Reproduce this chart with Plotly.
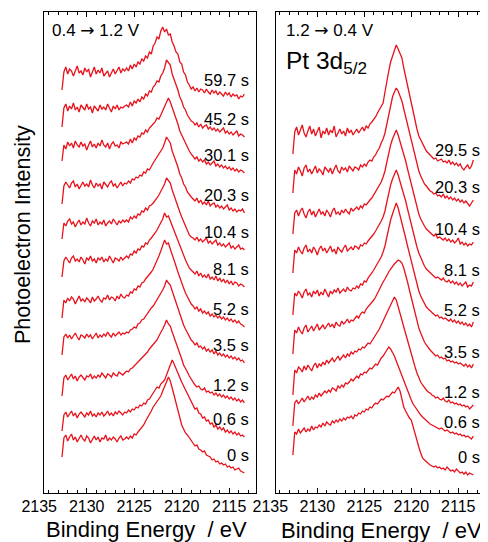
import numpy as np
import plotly.graph_objects as go

# ---------------- data ----------------
# binding-energy grid of the recorded spectra (eV), 2132.6 -> 2113.4
energy = np.round(2132.6 - 0.2 * np.arange(97), 2)

# Each spectrum: intensity (a.u.) relative to its own low-BE end, listed as
# [first point] + background 2132.4-2126.0 + rise 2125.8-2123.0 + peak 2122.8-2121.0
# + fall 2120.8-2119.0 + tail 2118.8-2113.4
left_times = ["59.7 s", "45.2 s", "30.1 s", "20.3 s", "10.4 s", "8.1 s",
              "5.2 s", "3.5 s", "1.2 s", "0.6 s", "0 s"]
left_offsets = [395, 356, 320, 280, 243, 206, 166, 130, 90, 56, 20]

L_59_7 = ([8] + [26,31,24,29,27,22,28,32,25,27,23,30,26,29,21,27,31,24,28,25,30,22,24,27,21,26,29,24,28,31,25,29,27]
          + [30,27,33,29,34,31,36,34,39,37,42,40,46,44,52] + [55,61,59,67,71,66,69,63,64,56]
          + [52,46,44,36,34,26,23,16,13,9] + [11,7,10,6,9,8,5,9,6,4,8,5,7,3,6,4,2,6,3,5,1,4,2,3,-1,2,1,4])
L_45_2 = ([10] + [29,33,26,31,28,34,27,30,25,32,29,27,33,28,30,24,31,29,26,32,28,30,27,33,29,25,31,28,32,27,30,29,31]
          + [32,30,35,31,36,34,38,35,40,38,43,41,46,45,50] + [52,56,55,61,64,69,77,74,72,63]
          + [58,52,47,40,36,30,27,22,19,16] + [15,12,14,10,13,9,11,12,8,10,7,9,6,8,5,7,9,4,6,3,5,2,4,6,1,3,2,0])
L_30_1 = ([12] + [28,24,31,27,30,25,32,28,26,31,27,29,23,28,32,26,29,25,30,27,33,28,26,30,24,29,31,27,28,25,31,29,30]
          + [31,29,34,30,35,33,37,36,40,39,43,41,45,47,49] + [51,55,54,58,62,66,70,75,71,66]
          + [60,54,49,42,38,33,29,25,22,19] + [17,14,16,12,14,11,13,9,11,8,10,12,7,9,6,8,5,7,4,6,3,5,2,4,1,3,2,0])
L_20_3 = ([9] + [27,31,28,25,30,32,26,29,24,28,31,27,29,26,33,28,25,30,27,29,24,31,28,26,30,32,27,29,25,28,31,27,30]
          + [29,32,30,34,33,36,35,38,37,41,40,44,43,47,50] + [53,56,58,62,65,70,76,73,70,62]
          + [57,50,46,39,35,29,26,21,18,16] + [14,12,15,10,13,9,11,8,12,7,9,10,6,8,5,7,4,6,8,3,5,2,4,1,3,2,4,0])
L_10_4 = ([11] + [27,24,29,31,26,28,23,27,30,25,28,26,32,27,24,29,27,31,25,28,26,30,24,27,29,26,31,28,25,29,27,30,28]
          + [30,28,33,31,34,32,36,35,39,38,42,40,44,45,47] + [49,52,55,59,62,66,72,69,67,60]
          + [54,49,44,38,33,28,24,19,15,13] + [12,10,13,9,11,8,10,12,7,9,6,8,10,5,7,4,6,3,5,7,2,4,1,3,5,1,2,0])
L_8_1 = ([10] + [26,30,27,24,29,31,26,28,25,30,27,23,29,27,31,26,28,24,29,27,30,25,28,26,31,27,24,29,28,26,30,27,29]
         + [31,29,33,32,36,34,38,37,41,40,44,43,47,49,51] + [54,57,61,64,68,74,70,71,66,62]
         + [57,50,46,40,35,30,27,23,19,17] + [15,13,16,11,14,10,12,9,13,8,10,7,11,6,9,5,8,4,7,3,6,2,5,4,1,3,2,0])
L_5_2 = ([9] + [27,24,29,26,30,28,23,27,31,26,28,25,29,27,24,30,26,28,31,27,25,29,28,32,27,30,29,26,31,28,33,30,29]
         + [32,31,35,34,38,37,41,40,44,45,48,50,53,55,58] + [62,66,71,76,81,87,83,84,78,73]
         + [67,61,55,49,44,39,34,30,26,23] + [21,18,20,16,18,14,16,13,15,11,13,10,12,9,11,8,10,7,9,6,8,5,7,4,6,3,2,0])
L_3_5 = ([8] + [26,29,25,28,24,27,30,26,23,28,27,25,29,26,28,24,27,30,25,28,26,29,27,31,28,26,30,27,29,31,28,30,29]
         + [31,30,33,34,36,35,39,40,43,44,47,49,52,55,57] + [60,63,66,70,73,77,83,80,78,72]
         + [66,60,54,48,43,38,34,30,26,23] + [21,18,20,16,17,14,16,12,14,11,13,9,12,8,10,7,9,6,8,5,7,4,6,3,5,2,3,0])
L_1_2 = ([7] + [25,28,23,26,29,24,27,22,26,28,25,23,27,26,29,24,27,25,28,26,30,27,25,29,28,26,30,28,27,31,29,28,30]
         + [32,31,34,35,37,38,41,42,45,47,49,51,54,56,58] + [61,63,67,70,74,78,83,79,77,71]
         + [66,60,55,49,44,38,35,31,27,24] + [20,18,16,17,14,13,15,11,12,10,11,8,10,7,9,6,8,5,7,4,6,3,5,2,4,1,3,0])
L_0_6 = ([6] + [22,25,20,23,26,21,24,19,23,25,22,20,24,22,26,21,23,20,24,22,25,21,23,26,22,24,21,25,23,26,24,22,25]
         + [24,27,25,28,27,30,29,32,31,34,33,37,38,41,44] + [46,50,49,53,55,57,62,67,71,77]
         + [73,68,63,59,55,51,47,43,39,35] + [32,28,29,24,23,19,20,16,17,13,14,10,12,8,10,7,9,5,7,4,6,3,5,2,4,1,2,0])
L_0 = ([16] + [35,38,32,36,39,33,36,31,35,38,34,32,37,35,30,34,37,33,36,31,35,34,38,32,35,33,36,34,31,35,37,33,34]
       + [36,34,37,35,39,38,41,43,46,48,52,55,58,62,66] + [69,71,74,77,82,86,91,96,92,85]
       + [77,70,62,56,48,44,40,38,35,33] + [30,27,28,24,23,21,22,18,17,16,13,14,11,12,9,10,8,9,6,7,5,6,3,4,5,2,1,0])
left_spectra = [L_59_7, L_45_2, L_30_1, L_20_3, L_10_4, L_8_1, L_5_2, L_3_5, L_1_2, L_0_6, L_0]

right_times = ["29.5 s", "20.3 s", "10.4 s", "8.1 s", "5.2 s", "3.5 s", "1.2 s", "0.6 s", "0 s"]
right_offsets = [325, 288, 246, 205, 165, 123, 83, 53, 18]

R_29_5 = ([14] + [36,41,33,38,43,35,31,37,42,34,39,32,36,41,30,37,34,40,33,38,35,42,31,36,39,34,37,32,40,35,38,33,36]
          + [39,35,38,41,37,42,40,44,46,48,51,55,58,61,65] + [76,88,97,106,111,116,123,119,115,110]
          + [100,91,84,73,64,55,47,39,32,28] + [24,20,17,15,13,11,9,10,7,8,9,6,7,5,8,4,6,3,5,2,4,0,-2,1,3,-1,2,8])
R_20_3 = ([12] + [35,31,38,34,29,37,40,33,36,31,35,39,32,36,34,30,38,35,33,37,31,36,40,34,32,38,35,37,33,39,36,34,38]
          + [37,35,40,38,41,39,43,45,44,48,50,54,57,62,66] + [72,82,92,101,108,113,117,114,109,104]
          + [96,88,80,71,63,55,47,40,34,29] + [25,21,19,16,14,13,11,12,9,10,8,11,7,9,6,8,5,7,4,6,3,5,2,4,1,-1,2,5])
R_10_4 = ([13] + [34,37,31,36,39,33,29,35,38,32,36,30,34,38,33,35,31,37,34,30,36,39,33,35,32,37,34,38,35,33,39,36,38]
          + [40,37,41,39,43,42,45,47,49,52,55,58,61,65,70] + [76,85,94,102,108,113,117,112,106,100]
          + [93,86,78,70,62,54,46,39,33,28] + [24,21,18,16,14,12,11,13,9,10,8,7,9,6,8,5,7,4,6,9,3,5,2,4,1,3,2,5])
R_8_1 = ([15] + [38,35,41,37,34,40,43,36,39,35,41,38,33,39,42,37,40,35,38,42,36,39,34,41,38,36,40,43,37,39,41,38,42]
         + [41,39,43,42,45,44,47,49,51,54,57,60,63,67,71] + [77,86,95,103,109,114,118,113,107,101]
         + [94,87,79,71,64,56,48,41,35,30] + [26,22,19,17,15,13,12,10,11,9,8,10,7,6,8,5,7,4,6,3,5,2,4,6,1,3,2,6])
R_5_2 = ([13] + [35,32,37,34,30,36,39,33,35,31,37,34,38,32,36,33,39,35,31,37,34,38,36,40,35,37,39,36,41,38,37,40,39]
         + [42,40,44,43,47,46,50,52,55,58,61,64,67,71,76] + [82,91,100,108,114,119,125,120,113,106]
         + [98,90,82,74,66,58,50,43,37,32] + [28,24,21,19,17,15,14,12,13,10,11,9,10,8,7,9,6,8,5,7,4,6,3,5,2,4,1,6])
R_3_5 = ([16] + [40,37,43,39,36,42,45,38,41,44,39,42,46,40,43,45,41,44,47,43,46,42,48,45,44,49,46,48,51,47,50,49,52]
         + [54,52,56,58,57,61,63,65,68,70,73,77,80,84,88] + [91,95,98,101,104,106,108,110,109,107]
         + [102,96,88,80,72,64,56,49,42,37] + [32,28,25,22,20,18,16,14,15,12,13,11,12,9,10,8,9,7,8,6,7,5,4,6,3,5,2,6])
R_1_2 = ([15] + [40,37,43,41,38,44,40,45,42,39,44,47,42,46,44,48,45,50,47,49,52,48,51,54,50,53,55,52,56,54,58,56,59]
         + [58,61,60,63,62,65,67,66,69,71,74,77,81,85,89] + [93,97,101,105,109,113,110,104,97,90]
         + [83,76,69,62,55,49,43,37,32,28] + [25,22,20,18,17,15,14,12,13,11,10,12,9,8,10,7,8,6,7,5,6,4,5,3,4,1,3,5])
R_0_6 = ([14] + [37,40,36,39,42,38,41,44,40,43,41,45,43,47,44,46,49,47,50,48,52,51,49,54,52,55,53,57,56,58,61,59,62]
         + [64,62,66,65,68,67,70,72,71,74,76,75,79,82,84] + [87,90,93,91,88,84,79,74,69,64]
         + [58,53,48,44,40,36,33,30,27,25] + [23,21,19,18,16,15,14,13,12,11,12,10,9,10,8,7,8,6,7,5,6,4,5,3,4,2,1,4])
R_0 = ([20] + [43,41,46,42,45,47,43,46,44,49,45,48,47,50,48,52,49,53,51,50,54,52,55,53,56,54,57,55,58,57,59,56,60]
       + [59,62,61,64,63,66,65,68,67,70,72,71,74,76,75] + [77,79,78,81,83,82,85,88,84,76]
       + [68,64,60,57,55,48,40,35,28,22] + [17,15,13,11,10,9,8,9,7,8,6,7,5,8,6,4,5,3,6,4,2,3,1,3,0,2,1,0])
right_spectra = [R_29_5, R_20_3, R_10_4, R_8_1, R_5_2, R_3_5, R_1_2, R_0_6, R_0]

tick_values = [2135, 2130, 2125, 2120, 2115]
label_lift = 18

# ---------------- layout geometry (page pixels; the page body adds an 8 px offset) ----------------
OX, OY = 8, 8
W, H = 480, 534
MT, MB = 4, 49
PH = H - MT - MB
RED = "#e8121c"
FONT = "Liberation Sans, Arial, sans-serif"
ARROW = '<span style="font-family:DejaVu Sans">\u2192</span>'

def fx(px):
    return (px - OX) / W

def fy(py):
    return (H - MB - (py - OY)) / PH

L_a, L_b, L_2135, L_s = 43.5, 256.0, 39.2, 9.5
R_a, R_b, R_2135, R_s = 276.0, 488.0, 270.3, 9.4
L_r0 = 2135 - (L_a - L_2135) / L_s
L_r1 = 2135 - (L_b - L_2135) / L_s
R_r0 = 2135 - (R_a - R_2135) / R_s
R_r1 = 2135 - (R_b - R_2135) / R_s

fig = go.Figure()
for t, off, v in zip(left_times, left_offsets, left_spectra):
    fig.add_trace(go.Scatter(x=energy[:len(v)], y=np.array(v) + off, mode="lines",
                             line=dict(color=RED, width=1.3), xaxis="x", yaxis="y",
                             name=t, showlegend=False, hoverinfo="skip"))
for t, off, v in zip(right_times, right_offsets, right_spectra):
    fig.add_trace(go.Scatter(x=energy[:len(v)], y=np.array(v) + off, mode="lines",
                             line=dict(color=RED, width=1.3), xaxis="x2", yaxis="y2",
                             name=t, showlegend=False, hoverinfo="skip"))
fig.add_trace(go.Scatter(x=[2130], y=[-50], mode="markers", marker=dict(opacity=0),
                         xaxis="x3", yaxis="y", showlegend=False, hoverinfo="skip"))
fig.add_trace(go.Scatter(x=[2130], y=[-50], mode="markers", marker=dict(opacity=0),
                         xaxis="x4", yaxis="y2", showlegend=False, hoverinfo="skip"))

frame_x = dict(showline=True, linecolor="black", linewidth=1, mirror="allticks",
               ticks="inside", ticklen=5, tickcolor="black", tickwidth=1,
               tick0=2115, dtick=5, showticklabels=False, showgrid=False, zeroline=False,
               automargin=False,
               minor=dict(ticks="inside", ticklen=3, dtick=1, tickcolor="black", tickwidth=1, showgrid=False))
frame_y = dict(domain=[0, 1], range=[0, PH], showline=True, linecolor="black", linewidth=1,
               mirror=True, ticks="", showticklabels=False, showgrid=False, zeroline=False,
               automargin=False)
label_x = dict(showline=False, ticks="", showgrid=False, zeroline=False, automargin=False,
               tickmode="array", tickvals=tick_values, showticklabels=True,
               tickfont=dict(size=16, color="black", family=FONT), ticklabelstandoff=2)

fig.update_layout(
    width=W, height=H, margin=dict(l=0, r=0, t=MT, b=MB, pad=0, autoexpand=False),
    paper_bgcolor="white", plot_bgcolor="rgba(0,0,0,0)",
    font=dict(family=FONT, color="black"),
    xaxis=dict(domain=[fx(L_a), fx(L_b)], range=[L_r0, L_r1], anchor="y", **frame_x),
    yaxis=dict(anchor="x", **frame_y),
    xaxis2=dict(domain=[fx(R_a), fx(R_b)], range=[R_r0, R_r1], anchor="y2", **frame_x),
    yaxis2=dict(anchor="x2", **frame_y),
    xaxis3=dict(domain=[fx(L_2135), fx(L_b)], range=[2135, L_r1], anchor="y", **label_x),
    xaxis4=dict(domain=[fx(R_2135), fx(R_b)], range=[2135, R_r1], anchor="y2", **label_x),
)

ann = []
for t, off in zip(left_times, left_offsets):
    ann.append(dict(text=t, xref="x domain", x=(251 - L_a) / (L_b - L_a), yref="y",
                    y=off + label_lift, xanchor="right", yanchor="middle",
                    showarrow=False, font=dict(size=16.5)))
for t, off in zip(right_times, right_offsets):
    ann.append(dict(text=t, xref="x2 domain", x=(482 - R_a) / (R_b - R_a), yref="y2",
                    y=off + label_lift, xanchor="right", yanchor="middle",
                    showarrow=False, font=dict(size=16.5)))
ann += [
    dict(text="0.4 " + ARROW + " 1.2 V", xref="paper", yref="paper", x=fx(50), y=fy(30),
         xanchor="left", yanchor="middle", showarrow=False, font=dict(size=17)),
    dict(text="1.2 " + ARROW + " 0.4 V", xref="paper", yref="paper", x=fx(284), y=fy(30),
         xanchor="left", yanchor="middle", showarrow=False, font=dict(size=17)),
    dict(text="Pt 3d<sub>5/2</sub>", xref="paper", yref="paper", x=fx(284), y=fy(62),
         xanchor="left", yanchor="middle", showarrow=False, font=dict(size=24.5)),
    dict(text="Photoelectron Intensity", xref="paper", yref="paper", x=fx(23), y=fy(235),
         xanchor="center", yanchor="middle", textangle=-90, showarrow=False, font=dict(size=21.5)),
    dict(text="Binding Energy \u00a0/ eV", xref="paper", yref="paper", x=fx(146), y=fy(529),
         xanchor="center", yanchor="middle", showarrow=False, font=dict(size=22)),
    dict(text="Binding Energy \u00a0/ eV", xref="paper", yref="paper", x=fx(381), y=fy(530),
         xanchor="center", yanchor="middle", showarrow=False, font=dict(size=22)),
]
fig.update_layout(annotations=ann)

fig.write_html("out.html")
